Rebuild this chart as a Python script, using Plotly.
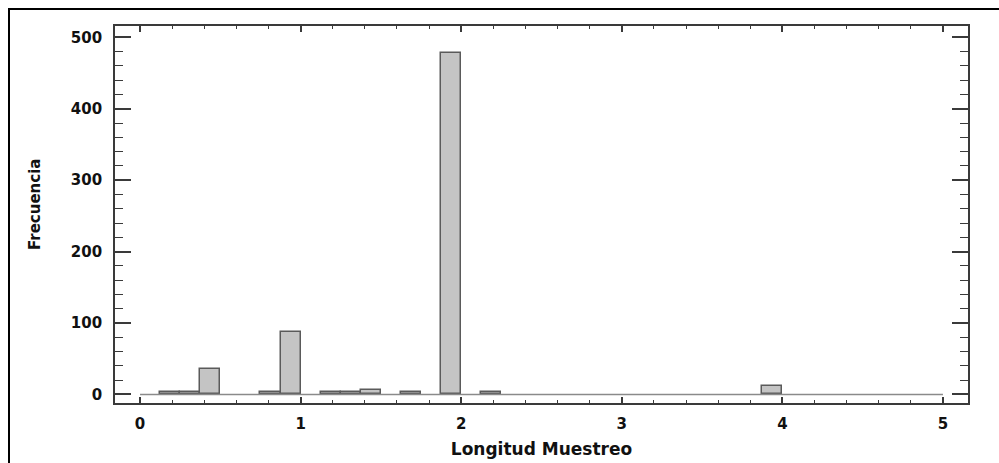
import plotly.graph_objects as go

# Histogram of sampling lengths: 0.125-wide classes between 0 and 5
bin_width = 0.125
hist_range = [0, 5]
bin_start = [0.125, 0.25, 0.375, 0.75, 0.875, 1.125, 1.25, 1.375, 1.625, 1.875, 2.125, 3.875]
counts = [4, 4, 35, 4, 88, 3, 3, 6, 3, 478, 3, 12]

x_ticks = [0, 1, 2, 3, 4, 5]
y_ticks = [0, 100, 200, 300, 400, 500]

FONT = "DejaVu Sans"
AXIS_COLOR = "#3a3a3a"

# plot area in pixels (used to place the frame and the y title)
L, R, T, B = 115, 968, 26, 403
W, H = R - L, B - T

fig = go.Figure()

# empty classes show as a flat outline along zero
fig.add_trace(go.Scatter(
    x=hist_range, y=[0, 0], mode="lines",
    line=dict(color="#8a8a8a", width=1.6),
    hoverinfo="skip", showlegend=False,
))

fig.add_trace(go.Bar(
    x=bin_start, y=counts, width=bin_width, offset=0,
    marker=dict(color="#c4c4c4", line=dict(color="#5a5a5a", width=1.5)),
    showlegend=False,
))

fig.update_layout(
    width=999, height=463,
    margin=dict(l=L, r=999 - R, t=T, b=463 - B),
    paper_bgcolor="white", plot_bgcolor="white",
    bargap=0,
    font=dict(family=FONT, color="#111111"),
    xaxis=dict(
        range=[-0.156, 5.156], automargin=False,
        tickmode="array", tickvals=x_ticks, ticktext=[str(v) for v in x_ticks],
        ticks="inside", ticklen=6, tickwidth=1.5, tickcolor=AXIS_COLOR,
        minor=dict(dtick=0.2, tick0=0, ticks="inside", ticklen=3, tickwidth=1.2, tickcolor=AXIS_COLOR),
        showline=True, linecolor=AXIS_COLOR, linewidth=1.8, mirror="allticks",
        showgrid=False, zeroline=False,
        tickfont=dict(family=FONT, size=15, weight="bold", color="#111111"),
        ticklabelstandoff=6,
        title=dict(text="Longitud Muestreo", standoff=11,
                   font=dict(family=FONT, size=17, weight="bold", color="#111111")),
    ),
    yaxis=dict(
        range=[-12, 516], automargin=False,
        tickmode="array", tickvals=y_ticks, ticktext=[str(v) for v in y_ticks],
        ticks="inside", ticklen=16, tickwidth=1.5, tickcolor=AXIS_COLOR,
        minor=dict(dtick=20, tick0=0, ticks="inside", ticklen=8, tickwidth=1.2, tickcolor=AXIS_COLOR),
        showline=True, linecolor=AXIS_COLOR, linewidth=1.8, mirror="allticks",
        showgrid=False, zeroline=False,
        tickfont=dict(family=FONT, size=15, weight="bold", color="#111111"),
        ticklabelstandoff=8,
    ),
    annotations=[dict(
        text="Frecuencia", textangle=-90, showarrow=False,
        xref="paper", yref="paper",
        x=(35 - L) / W, y=(B - 205) / H, xanchor="center", yanchor="middle",
        font=dict(family=FONT, size=15, weight="bold", color="#111111"),
    )],
    # outer frame around the figure
    shapes=[dict(
        type="rect", xref="paper", yref="paper",
        x0=(9 - L) / W, x1=(1005 - L) / W,
        y0=(B - 470) / H, y1=(B - 9) / H,
        line=dict(color="black", width=2), fillcolor="rgba(0,0,0,0)",
        layer="above",
    )],
)

fig.write_html("out.html")
